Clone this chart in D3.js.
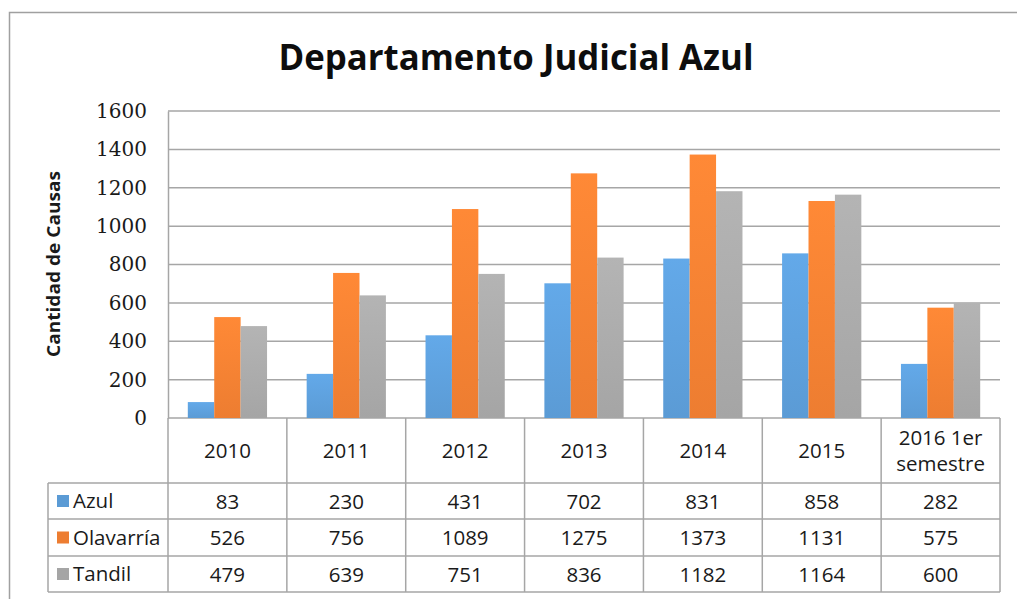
<!DOCTYPE html>
<html><head><meta charset="utf-8">
<script src="https://cdnjs.cloudflare.com/ajax/libs/d3/7.8.5/d3.min.js"></script>
<style>body{margin:0;background:#fff;}svg{display:block;}</style>
</head><body>
<script>
const categories = ["2010","2011","2012","2013","2014","2015","2016 1er semestre"];
const azul = [83,230,431,702,831,858,282];
const olavarria = [526,756,1089,1275,1373,1131,575];
const tandil = [479,639,751,836,1182,1164,600];
const seriesNames = ["Azul","Olavarría","Tandil"];
const yTicks = [0,200,400,600,800,1000,1200,1400,1600];
const colors = ["#5B9BD5","#ED7D31","#A5A5A5"];
const series = [azul, olavarria, tandil];

const W = 1017, H = 599;
const svg = d3.select("body").append("svg").attr("width", W).attr("height", H);
const defs = svg.append("defs");
colors.forEach((c,i)=>{
  const g = defs.append("linearGradient").attr("id","g"+i).attr("x1",0).attr("y1",0).attr("x2",0).attr("y2",1);
  g.append("stop").attr("offset","0%").attr("stop-color", d3.color(c).brighter(0.25));
  g.append("stop").attr("offset","100%").attr("stop-color", c);
});

// outer border
svg.append("rect").attr("x",9.5).attr("y",12.5).attr("width",1020).attr("height",600)
  .attr("fill","none").attr("stroke","#a0a0a0").attr("stroke-width",1.5);

const L = 168, R = 1000, T = 111, B = 418;
const x = d3.scaleBand().domain(categories).range([L,R]);
const y = d3.scaleLinear().domain([0,1600]).range([B,T]);
const inner = d3.scaleBand().domain(seriesNames).range([0,x.bandwidth()]).paddingInner(0).paddingOuter(0.75);

// gridlines
svg.append("g").selectAll("line").data(yTicks).join("line")
  .attr("x1",L).attr("x2",R).attr("y1",d=>y(d)).attr("y2",d=>y(d))
  .attr("stroke","#a6a6a6").attr("stroke-width",1.5);

// y axis
const yAxis = d3.axisLeft(y).tickValues(yTicks).tickSize(0).tickPadding(21).tickFormat(d3.format("d"));
const ya = svg.append("g").attr("transform",`translate(${L},0)`).call(yAxis);
ya.select(".domain").attr("stroke","#a6a6a6").attr("stroke-width",1.5);
ya.selectAll("text").attr("font-family","'DejaVu Serif', serif").attr("font-size",20)
  .attr("fill","#1a1a1a");

// bars
series.forEach((s,si)=>{
  svg.append("g").selectAll("rect").data(s).join("rect")
    .attr("x",(d,i)=>x(categories[i])+inner(seriesNames[si]))
    .attr("width",inner.bandwidth())
    .attr("y",d=>y(d)).attr("height",d=>B-y(d))
    .attr("fill",`url(#g${si})`);
});

// data table
const rowTops = [418,483,519,556,592];
const tbl = svg.append("g").attr("stroke","#a6a6a6").attr("stroke-width",1.5);
categories.concat(["end"]).forEach((c,i)=>{
  const xx = i<categories.length ? x(c) : R;
  tbl.append("line").attr("x1",xx).attr("x2",xx).attr("y1",418).attr("y2",592);
});
tbl.append("line").attr("x1",48).attr("x2",48).attr("y1",483).attr("y2",592);
[483,519,556,592].forEach(yy=>{
  tbl.append("line").attr("x1",48).attr("x2",R).attr("y1",yy).attr("y2",yy);
});

const font = "'Open Sans', sans-serif";
const fs = 20.5;
categories.forEach(c=>{
  const cx = x(c)+x.bandwidth()/2;
  const t = svg.append("text").attr("x",cx).attr("text-anchor","middle")
    .attr("font-family",font).attr("font-size",fs).attr("fill","#1a1a1a");
  if (c.indexOf(" 1er ")>0){
    t.append("tspan").attr("x",cx).attr("y",445).text("2016 1er");
    t.append("tspan").attr("x",cx).attr("y",471).text("semestre");
  } else {
    t.attr("y",458).text(c);
  }
});
series.forEach((s,si)=>{
  const yMid = (rowTops[si+1]+rowTops[si+2])/2;
  svg.append("rect").attr("x",57).attr("y",yMid-6).attr("width",12).attr("height",12).attr("fill",colors[si]);
  svg.append("text").attr("x",73).attr("y",yMid+7).attr("font-family",font).attr("font-size",fs)
    .attr("fill","#1a1a1a").text(seriesNames[si]);
  svg.append("g").selectAll("text").data(s).join("text")
    .attr("x",(d,i)=>x(categories[i])+x.bandwidth()/2).attr("y",yMid+7.5)
    .attr("text-anchor","middle").attr("font-family",font).attr("font-size",fs).attr("fill","#1a1a1a")
    .text(d=>d);
});

// y axis title
svg.append("text").attr("transform","translate(60,264) rotate(-90)").attr("text-anchor","middle")
  .attr("font-family",font).attr("font-weight","bold").attr("font-size",17).attr("fill","#1a1a1a")
  .attr("textLength",186).attr("lengthAdjust","spacingAndGlyphs")
  .text("Cantidad de Causas");

// title
svg.append("text").attr("x",516).attr("y",70).attr("text-anchor","middle")
  .attr("font-family",font).attr("font-weight","bold").attr("font-size",36).attr("fill","#0d0d0d")
  .attr("textLength",475).attr("lengthAdjust","spacingAndGlyphs")
  .text("Departamento Judicial Azul");
</script>
</body></html>
